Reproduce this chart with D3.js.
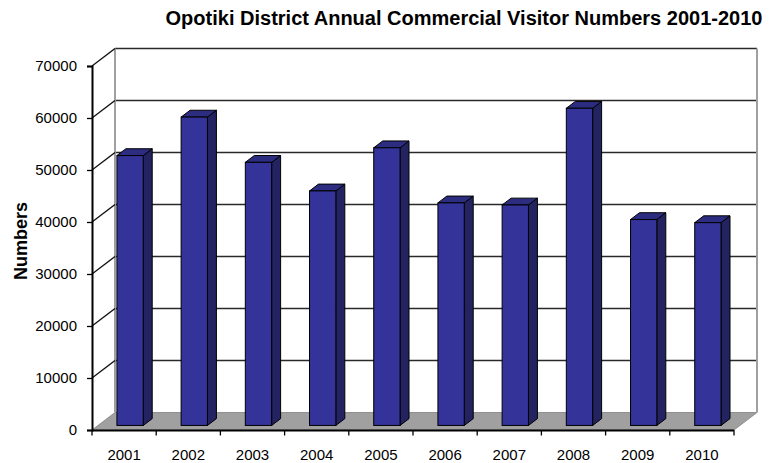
<!DOCTYPE html>
<html>
<head>
<meta charset="utf-8">
<script src="https://cdn.jsdelivr.net/npm/d3@7"></script>
<style>
  html, body { margin: 0; padding: 0; background: #fff; }
  svg { display: block; font-family: "Liberation Sans", Arial, sans-serif; }
</style>
</head>
<body>
<svg id="chart" width="783" height="463"></svg>
<script>
// Annual commercial visitor numbers, Opotiki District
const years = ["2001", "2002", "2003", "2004", "2005", "2006", "2007", "2008", "2009", "2010"];
const visitors = [51900, 59300, 50600, 45100, 53400, 42800, 42400, 61000, 39600, 39000];
const yTicks = [0, 10000, 20000, 30000, 40000, 50000, 60000, 70000];
const titleText = "Opotiki District Annual Commercial Visitor Numbers 2001-2010";
const yTitle = "Numbers";

const svg = d3.select("#chart");

// front plane scales
const x = d3.scaleBand().domain(years).range([92, 734]).paddingInner(0).paddingOuter(0);
const y = d3.scaleLinear().domain([0, 70000]).range([430, 66]);

// oblique depth vector (front -> back wall)
const DX = 23, DY = -17.5;
const depth = f => [DX * f, DY * f];

const y0 = y(0), yTop = y(70000);
const xl = x.range()[0], xr = x.range()[1];
const [bdx, bdy] = depth(1);

// back wall
svg.append("rect")
  .attr("x", xl + bdx).attr("y", yTop + bdy)
  .attr("width", xr - xl).attr("height", y0 - yTop)
  .attr("fill", "#fff");

// floor
svg.append("polygon")
  .attr("points", [[xl, y0], [xr, y0], [xr + bdx, y0 + bdy], [xl + bdx, y0 + bdy]].map(p => p.join(",")).join(" "))
  .attr("fill", "#a0a0a0")
  .attr("stroke", "#808080")
  .attr("stroke-width", 0.8);

// back wall gridlines
svg.append("g").selectAll("line")
  .data(yTicks.filter(t => t > 0))
  .join("line")
  .attr("x1", xl + bdx).attr("x2", xr + bdx)
  .attr("y1", d => y(d) + bdy).attr("y2", d => y(d) + bdy)
  .attr("stroke", "#2a2a2a")
  .attr("stroke-width", 1.6);

// back wall side edges
svg.append("g").selectAll("line")
  .data([xl + bdx, xr + bdx])
  .join("line")
  .attr("x1", d => d).attr("x2", d => d)
  .attr("y1", yTop + bdy).attr("y2", y0 + bdy)
  .attr("stroke", "#a0a0a0")
  .attr("stroke-width", 2);

// side wall gridlines (oblique)
svg.append("g").selectAll("line")
  .data(yTicks.filter(t => t > 0))
  .join("line")
  .attr("x1", xl).attr("y1", d => y(d))
  .attr("x2", xl + bdx).attr("y2", d => y(d) + bdy)
  .attr("stroke", "#111")
  .attr("stroke-width", 1.4);

// bars as oblique boxes
const f1 = 0.26, f2 = 0.65;
const barFrac = 0.41;
const [ox1, oy1] = depth(f1);
const [ox2, oy2] = depth(f2);
const bars = svg.append("g").selectAll("g")
  .data(years.map((yr, i) => ({ yr, v: visitors[i] })))
  .join("g");

bars.each(function(d) {
  const g = d3.select(this);
  const bw = x.bandwidth() * barFrac;
  const L = x(d.yr) + (x.bandwidth() - bw) / 2;
  const R = L + bw;
  const yv = y(d.v);
  const pts = a => a.map(p => p.join(",")).join(" ");
  // side face
  g.append("polygon")
    .attr("points", pts([[R + ox1, yv + oy1], [R + ox2, yv + oy2], [R + ox2, y0 + oy2], [R + ox1, y0 + oy1]]))
    .attr("fill", "#232361").attr("stroke", "#000").attr("stroke-width", 1).attr("stroke-linejoin", "round");
  // top face
  g.append("polygon")
    .attr("points", pts([[L + ox1, yv + oy1], [R + ox1, yv + oy1], [R + ox2, yv + oy2], [L + ox2, yv + oy2]]))
    .attr("fill", "#2c2c80").attr("stroke", "#000").attr("stroke-width", 1).attr("stroke-linejoin", "round");
  // front face
  g.append("rect")
    .attr("x", L + ox1).attr("y", yv + oy1)
    .attr("width", bw).attr("height", y0 - yv)
    .attr("fill", "#333399").attr("stroke", "#000").attr("stroke-width", 1);
});

// value axis
const yAxis = svg.append("g").attr("transform", `translate(${xl},0)`)
  .call(d3.axisLeft(y).tickValues(yTicks).tickSize(5).tickPadding(10).tickFormat(d3.format("d")));
yAxis.select(".domain").attr("stroke", "#000").attr("stroke-width", 2);
yAxis.selectAll(".tick line").attr("stroke", "#000").attr("stroke-width", 1.3);
yAxis.selectAll(".tick text")
  .attr("font-size", 15).attr("fill", "#000")
  .attr("font-family", "Liberation Sans, Arial, sans-serif");

// category axis
const xAxis = svg.append("g").attr("transform", `translate(0,${y0})`)
  .call(d3.axisBottom(x).tickSize(0).tickPadding(19));
xAxis.select(".domain").remove();
xAxis.append("line")
  .attr("x1", xl).attr("x2", xr).attr("y1", 0.5).attr("y2", 0.5)
  .attr("stroke", "#000").attr("stroke-width", 2);
xAxis.append("g").selectAll("line")
  .data(d3.range(years.length + 1))
  .join("line")
  .attr("x1", i => xl + i * x.step()).attr("x2", i => xl + i * x.step())
  .attr("y1", 0).attr("y2", 5.5)
  .attr("stroke", "#000").attr("stroke-width", 1.3);
xAxis.selectAll(".tick text")
  .attr("font-size", 15).attr("fill", "#000")
  .attr("font-family", "Liberation Sans, Arial, sans-serif");

// titles
svg.append("text")
  .attr("x", 464).attr("y", 24.5)
  .attr("text-anchor", "middle")
  .attr("font-size", 20).attr("font-weight", "bold")
  .text(titleText);

svg.append("text")
  .attr("transform", "translate(26.5,241) rotate(-90)")
  .attr("text-anchor", "middle")
  .attr("font-size", 18).attr("font-weight", "bold")
  .text(yTitle);
</script>
</body>
</html>
